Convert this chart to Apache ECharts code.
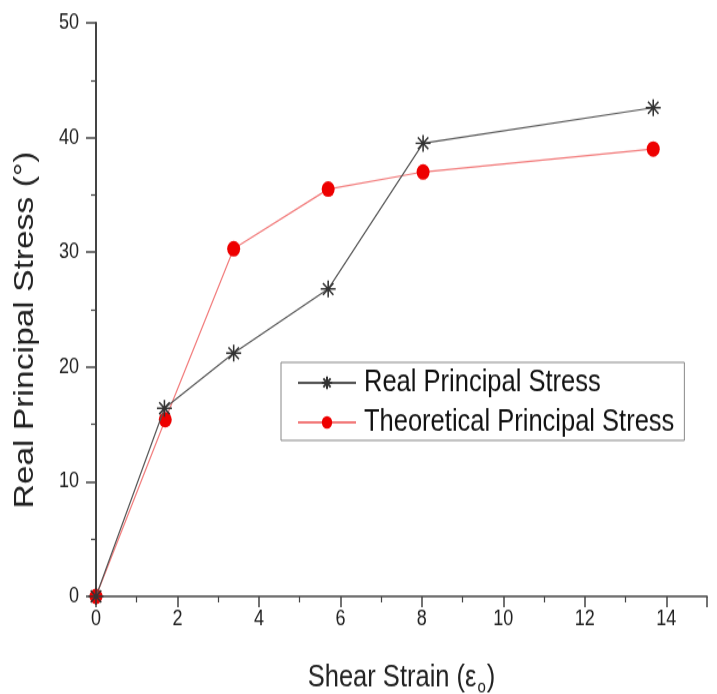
<!DOCTYPE html>
<html>
<head>
<meta charset="utf-8">
<script src="https://cdn.jsdelivr.net/npm/echarts@6/dist/echarts.min.js"></script>
<style>
  html, body { margin: 0; padding: 0; background: #fff; width: 717px; height: 694px; overflow: hidden; }
  #wrap { width: 717px; height: 694px; position: relative; overflow: hidden; }
  /* the source figure is stretched vertically, so draw short and stretch */
  #chart { position: absolute; left: 0; top: 0; width: 717px; height: 578px; transform: scaleY(1.2); transform-origin: 0 0; }
</style>
</head>
<body>
<div id="wrap"><div id="chart"></div></div>
<script>
// values
const strain = [0, 1.68, 3.38, 5.7, 8.03, 13.68];
const realStress = [0, 16.4, 21.2, 26.8, 39.5, 42.6];
const strainTheo = [0, 1.7, 3.38, 5.7, 8.03, 13.68];
const theoStress = [0, 15.4, 30.3, 35.5, 37.0, 39.0];
const seriesNames = ['Real Principal Stress', 'Theoretical Principal Stress'];

const chart = echarts.init(document.getElementById('chart'));

const FONT = 'Liberation Sans, Arial, sans-serif';
// asterisk marker, stroked not filled
const starPath = 'path://M0,-10L0,10M-10,0L10,0M-7,-7L7,7M-7,7L7,-7';

const axisText = { color: '#222', fontSize: 18, fontFamily: FONT };

chart.setOption({
  animation: false,
  backgroundColor: '#fff',
  grid: { left: 96, right: 10, top: 19, bottom: 81, containLabel: false, outerBoundsMode: 'none' },
  legend: {
    orient: 'vertical',
    left: 281,
    top: 302,
    padding: [4, 10, 2, 16],
    itemGap: 7,
    itemWidth: 58,
    itemHeight: 13,
    borderColor: '#888',
    borderWidth: 1,
    textStyle: { color: '#111', fontSize: 25.5, fontFamily: FONT, padding: [0, 0, 0, 3] },
    data: seriesNames
  },
  xAxis: {
    type: 'value',
    min: 0, max: 15, interval: 2,
    name: 'Shear Strain (ε{sub|o})',
    nameLocation: 'middle',
    nameGap: 52,
    nameTextStyle: {
      color: '#222', fontSize: 25.5, fontFamily: FONT,
      rich: { sub: { fontSize: 15, fontFamily: FONT, color: '#222', padding: [16, 1, 0, 1] } }
    },
    axisLine: { lineStyle: { color: '#444', width: 1.7 } },
    axisTick: { length: 9, lineStyle: { color: '#444', width: 1.5 } },
    minorTick: { show: true, splitNumber: 2, length: 5, lineStyle: { color: '#444', width: 1.2 } },
    axisLabel: Object.assign({ margin: 10, showMaxLabel: false }, axisText),
    splitLine: { show: false }
  },
  yAxis: {
    type: 'value',
    min: 0, max: 50, interval: 10,
    name: 'Real Principal Stress (°)',
    nameLocation: 'middle',
    nameGap: 57,
    // right padding pushes the rotated title down a little, as in the source
    nameTextStyle: { color: '#222', fontSize: 28, fontFamily: FONT, padding: [0, 34, 0, 0] },
    axisLine: { show: true, lineStyle: { color: '#444', width: 2 } },
    axisTick: { show: true, length: 10, lineStyle: { color: '#444', width: 1.5 } },
    minorTick: { show: true, splitNumber: 2, length: 5, lineStyle: { color: '#444', width: 1.2 } },
    axisLabel: Object.assign({ margin: 17 }, axisText),
    splitLine: { show: false }
  },
  series: [
    {
      name: seriesNames[0],
      type: 'line',
      data: strain.map((x, i) => [x, realStress[i]]),
      symbol: starPath,
      symbolSize: [15, 14],
      showAllSymbol: true,
      lineStyle: { color: '#555', width: 1.2 },
      itemStyle: { color: '#333', borderColor: '#333', borderWidth: 1.5 },
      z: 3
    },
    {
      name: seriesNames[1],
      type: 'line',
      data: strainTheo.map((x, i) => [x, theoStress[i]]),
      symbol: 'circle',
      symbolSize: 13,
      showAllSymbol: true,
      lineStyle: { color: '#f27a7a', width: 1.2 },
      itemStyle: { color: '#ee0000', borderWidth: 0 },
      z: 2
    }
  ]
});
</script>
</body>
</html>
